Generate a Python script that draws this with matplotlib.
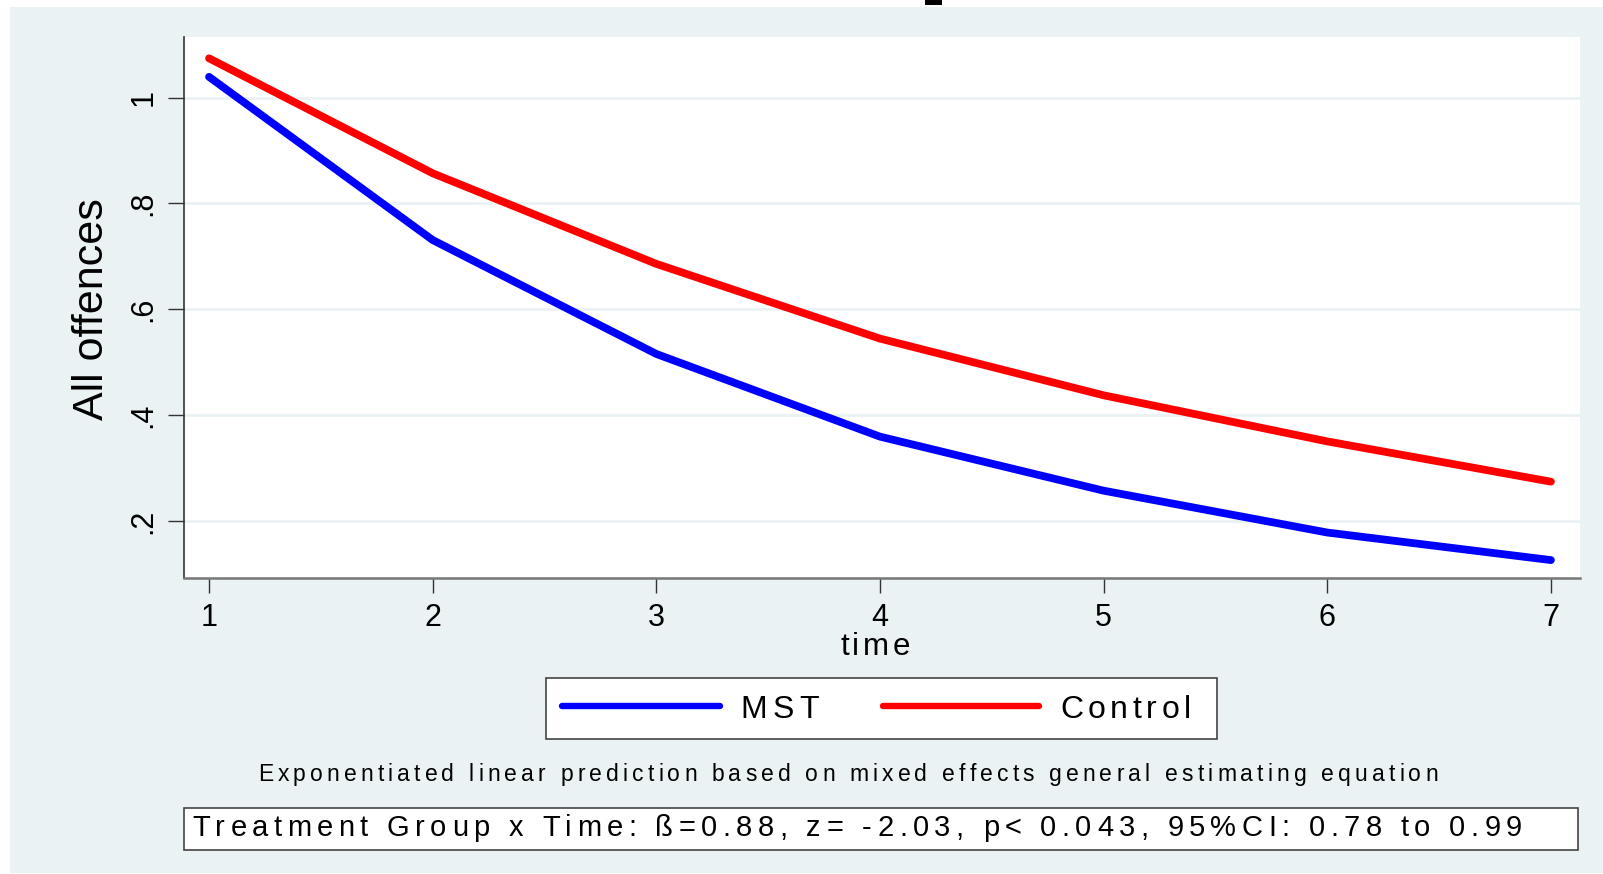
import matplotlib
matplotlib.use("Agg")
import matplotlib.pyplot as plt
from matplotlib.patches import Rectangle
from matplotlib.lines import Line2D
from matplotlib.text import Text
from matplotlib.transforms import IdentityTransform
from matplotlib.font_manager import findfont, get_font

try:
    from matplotlib.ft2font import LoadFlags
    _LF = LoadFlags.NO_HINTING
except ImportError:  # older matplotlib
    from matplotlib.ft2font import LOAD_NO_HINTING as _LF

# ---- data ----
time = [1, 2, 3, 4, 5, 6, 7]
mst = [1.039, 0.731, 0.516, 0.360, 0.258, 0.179, 0.127]
control = [1.074, 0.857, 0.686, 0.545, 0.438, 0.351, 0.275]
series_labels = ["MST", "Control"]
yticks = [0.2, 0.4, 0.6, 0.8, 1.0]
ytick_labels = [".2", ".4", ".6", ".8", "1"]
xlabel = "time"
ylabel = "All offences"
note = "Exponentiated linear prediction based on mixed effects general estimating equation"
stats = "Treatment Group x Time: ß=0.88, z= -2.03, p< 0.043, 95%CI: 0.78 to 0.99"

W, H = 1603, 874
BG = "#EAF2F3"
SANS = ["Liberation Sans", "DejaVu Sans"]


class TrackedText(Text):
    """A text drawn with extra letter spacing so that it spans `span` pixels."""

    def __init__(self, x, y, text, span=None, **kw):
        super().__init__(x, y, text, **kw)
        self._span = span

    def draw(self, renderer):
        if not self.get_visible():
            return
        s = self.get_text()
        prop = self.get_fontproperties()
        font = get_font(findfont(prop))
        font.set_size(prop.get_size_in_points(), self.figure.dpi)
        adv = [font.load_char(ord(c), flags=_LF).linearHoriAdvance / 65536.0 for c in s]
        natural = sum(adv)
        n = len(s)
        track = 0.0
        if self._span and n > 1:
            track = (self._span - natural) / (n - 1)
        total = natural + track * (n - 1)
        x0, y0 = self.get_transform().transform(self.get_position())
        ha = self.get_horizontalalignment()
        if ha == "center":
            x0 -= total / 2
        elif ha == "right":
            x0 -= total
        x = x0
        for c, a in zip(s, adv):
            if not c.isspace():
                t = Text(x, y0, c, fontproperties=prop, color=self.get_color(),
                         ha="left", va=self.get_verticalalignment(),
                         transform=IdentityTransform())
                t.set_figure(self.figure)
                t.draw(renderer)
            x += a + track


fig = plt.figure(figsize=(W / 100, H / 100), dpi=100, facecolor="white")


def fx(x):
    return x / W


def fy(y):
    return (H - y) / H


def tracked(x, y, s, span, size, ha="left"):
    t = TrackedText(fx(x), fy(y), s, span=span, ha=ha, va="baseline",
                    fontsize=size, family=SANS, color="black",
                    transform=fig.transFigure, zorder=5)
    fig.add_artist(t)
    return t


# outer background
fig.patches.append(Rectangle((fx(10), fy(873)), fx(W) - fx(10), fy(7) - fy(873),
                             transform=fig.transFigure, facecolor=BG, edgecolor="none", zorder=-10))
# fragment of cut-off title
fig.patches.append(Rectangle((fx(925), fy(5)), 17 / W, 5 / H,
                             transform=fig.transFigure, facecolor="black", edgecolor="none", zorder=-5))

ax = fig.add_axes([fx(184), fy(578), (1580 - 184) / W, (578 - 37) / H])
ax.set_zorder(1)
ax.set_facecolor("white")
ax.plot(time, mst, color="#0000FF", lw=5.6, solid_capstyle="round", solid_joinstyle="round", zorder=3)
ax.plot(time, control, color="#FF0000", lw=5.6, solid_capstyle="round", solid_joinstyle="round", zorder=3)

ax.set_xlim(0.888, 7.130)
ax.set_ylim(0.0932, 1.1142)
ax.set_xticks(time)
ax.set_xticklabels([str(t) for t in time], fontsize=22, family=SANS)
ax.set_yticks(yticks)
ax.set_yticklabels(ytick_labels, fontsize=22, family=SANS, rotation=90, va="center")
ax.tick_params(axis="x", length=11, width=1, color="#333333", pad=7)
ax.tick_params(axis="y", length=11.5, width=1, color="#333333", pad=7)
ax.yaxis.grid(True, color=BG, lw=2)
ax.set_axisbelow(True)
for s in ["top", "right"]:
    ax.spines[s].set_visible(False)
ax.spines["left"].set_color("#333333")
ax.spines["left"].set_linewidth(1.2)
ax.spines["bottom"].set_color("#777777")
ax.spines["bottom"].set_linewidth(1.8)

fig.text(fx(92), fy(309), ylabel, rotation=90, ha="center", va="center", fontsize=31, family=SANS)
tracked(875, 655, xlabel, 70, 22.5, ha="center")

# legend
fig.patches.append(Rectangle((fx(546), fy(739)), (1217 - 546) / W, (739 - 678) / H,
                             transform=fig.transFigure, facecolor="white", edgecolor="#444444", lw=1.2, zorder=2))
fig.lines.append(Line2D([fx(562), fx(720)], [fy(706), fy(706)], transform=fig.transFigure,
                        color="#0000FF", lw=4.6, solid_capstyle="round", zorder=3))
fig.lines.append(Line2D([fx(883), fx(1039)], [fy(706), fy(706)], transform=fig.transFigure,
                        color="#FF0000", lw=4.6, solid_capstyle="round", zorder=3))
tracked(740, 718, series_labels[0], 79, 23)
tracked(1060, 718, series_labels[1], 131, 23)

# note
tracked(848, 781, note, 1180, 16.5, ha="center")

# stats box
fig.patches.append(Rectangle((fx(184), fy(850)), (1578 - 184) / W, (850 - 808) / H,
                             transform=fig.transFigure, facecolor="white", edgecolor="#444444", lw=1.2, zorder=2))
tracked(192, 836, stats, 1330, 21)

fig.savefig("out.png", dpi=100, facecolor="white")
